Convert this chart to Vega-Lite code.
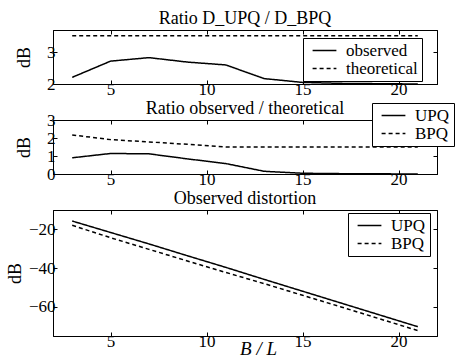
{
  "$schema": "https://vega.github.io/schema/vega-lite/v6.json",
  "background": "white",
  "padding": {"left": 5, "top": 9, "right": 1, "bottom": 1},
  "datasets": {
    "p1": [
      {"x": 3, "value": 2.21, "series": "observed"},
      {"x": 5, "value": 2.72, "series": "observed"},
      {"x": 7, "value": 2.83, "series": "observed"},
      {"x": 9, "value": 2.69, "series": "observed"},
      {"x": 11, "value": 2.6, "series": "observed"},
      {"x": 13, "value": 2.17, "series": "observed"},
      {"x": 15, "value": 2.05, "series": "observed"},
      {"x": 17, "value": 2.02, "series": "observed"},
      {"x": 19, "value": 2.01, "series": "observed"},
      {"x": 21, "value": 2.0, "series": "observed"},
      {"x": 3, "value": 3.52, "series": "theoretical"},
      {"x": 5, "value": 3.52, "series": "theoretical"},
      {"x": 7, "value": 3.52, "series": "theoretical"},
      {"x": 9, "value": 3.52, "series": "theoretical"},
      {"x": 11, "value": 3.52, "series": "theoretical"},
      {"x": 13, "value": 3.52, "series": "theoretical"},
      {"x": 15, "value": 3.52, "series": "theoretical"},
      {"x": 17, "value": 3.52, "series": "theoretical"},
      {"x": 19, "value": 3.52, "series": "theoretical"},
      {"x": 21, "value": 3.52, "series": "theoretical"}
    ],
    "p2": [
      {"x": 3, "value": 0.9, "series": "UPQ"},
      {"x": 5, "value": 1.14, "series": "UPQ"},
      {"x": 7, "value": 1.12, "series": "UPQ"},
      {"x": 9, "value": 0.84, "series": "UPQ"},
      {"x": 11, "value": 0.58, "series": "UPQ"},
      {"x": 13, "value": 0.15, "series": "UPQ"},
      {"x": 15, "value": 0.04, "series": "UPQ"},
      {"x": 17, "value": 0.02, "series": "UPQ"},
      {"x": 19, "value": 0.01, "series": "UPQ"},
      {"x": 21, "value": 0.0, "series": "UPQ"},
      {"x": 3, "value": 2.17, "series": "BPQ"},
      {"x": 5, "value": 1.91, "series": "BPQ"},
      {"x": 7, "value": 1.78, "series": "BPQ"},
      {"x": 9, "value": 1.65, "series": "BPQ"},
      {"x": 11, "value": 1.5, "series": "BPQ"},
      {"x": 13, "value": 1.5, "series": "BPQ"},
      {"x": 15, "value": 1.5, "series": "BPQ"},
      {"x": 17, "value": 1.5, "series": "BPQ"},
      {"x": 19, "value": 1.5, "series": "BPQ"},
      {"x": 21, "value": 1.5, "series": "BPQ"}
    ],
    "p3": [
      {"x": 3, "value": -15.7, "series": "UPQ"},
      {"x": 5, "value": -21.6, "series": "UPQ"},
      {"x": 7, "value": -27.5, "series": "UPQ"},
      {"x": 9, "value": -33.6, "series": "UPQ"},
      {"x": 11, "value": -39.6, "series": "UPQ"},
      {"x": 13, "value": -45.8, "series": "UPQ"},
      {"x": 15, "value": -51.9, "series": "UPQ"},
      {"x": 17, "value": -58.0, "series": "UPQ"},
      {"x": 19, "value": -64.1, "series": "UPQ"},
      {"x": 21, "value": -70.2, "series": "UPQ"},
      {"x": 3, "value": -17.9, "series": "BPQ"},
      {"x": 5, "value": -24.3, "series": "BPQ"},
      {"x": 7, "value": -30.3, "series": "BPQ"},
      {"x": 9, "value": -36.3, "series": "BPQ"},
      {"x": 11, "value": -42.2, "series": "BPQ"},
      {"x": 13, "value": -48.0, "series": "BPQ"},
      {"x": 15, "value": -54.0, "series": "BPQ"},
      {"x": 17, "value": -60.0, "series": "BPQ"},
      {"x": 19, "value": -66.1, "series": "BPQ"},
      {"x": 21, "value": -72.2, "series": "BPQ"}
    ]
  },
  "config": {
    "font": "Liberation Serif",
    "view": {"stroke": "black", "strokeWidth": 1},
    "axis": {
      "grid": false, "domainColor": "black", "domainWidth": 1, "tickColor": "black", "tickWidth": 1,
      "labelColor": "black", "titleColor": "black", "labelFont": "Liberation Serif", "labelFontSize": 17,
      "titleFont": "Liberation Serif", "titleFontSize": 18, "titleFontWeight": "normal",
      "tickSize": -4
    },
    "axisX": {"labelPadding": 1},
    "axisY": {"labelPadding": 2},
    "legend": {
      "orient": "none", "strokeColor": "black", "fillColor": "white", "cornerRadius": 0, "padding": 4,
      "labelFont": "Liberation Serif", "labelFontSize": 17, "labelColor": "black", "title": null,
      "symbolType": "M-1.7,0H1.7", "symbolSize": 196, "symbolStrokeWidth": 1.5, "symbolStrokeColor": "black",
      "symbolOffset": 9, "rowPadding": 0, "labelOffset": 13
    },
    "title": {"font": "Liberation Serif", "fontSize": 18, "fontWeight": "normal", "color": "black", "offset": 2}
  },
  "bounds": "flush",
  "spacing": 36,
  "vconcat": [
    {
      "width": 384, "height": 54,
      "title": "Ratio D_UPQ / D_BPQ",
      "data": {"name": "p1"},
      "layer": [
        {
          "mark": {"type": "line", "color": "black", "strokeWidth": 1.5, "clip": true},
          "encoding": {
            "x": {"field": "x", "type": "quantitative", "scale": {"domain": [2, 22], "nice": false}, "axis": {"values": [5, 10, 15, 20], "title": null}},
            "y": {"field": "value", "type": "quantitative", "scale": {"domain": [2, 3.7], "nice": false, "zero": false}, "axis": {"values": [2, 3], "title": "dB", "titlePadding": 13}},
            "strokeDash": {"field": "series", "type": "nominal", "scale": {"domain": ["observed", "theoretical"], "range": [[1, 0], [4, 3]]}, "legend": {"legendX": 250, "legendY": 8}}
          }
        },
        {
          "mark": {"type": "line", "opacity": 0},
          "encoding": {
            "x": {"field": "x", "type": "quantitative", "axis": {"orient": "top", "values": [5, 10, 15, 20], "labels": false, "title": null}},
            "y": {"field": "value", "type": "quantitative", "axis": {"orient": "right", "values": [2, 3], "labels": false, "title": null}}
          }
        }
      ],
      "resolve": {"axis": {"x": "independent", "y": "independent"}}
    },
    {
      "width": 384, "height": 54,
      "title": {"text": "Ratio observed / theoretical", "offset": -15},
      "data": {"name": "p2"},
      "layer": [
        {
          "mark": {"type": "line", "color": "black", "strokeWidth": 1.5, "clip": true},
          "encoding": {
            "x": {"field": "x", "type": "quantitative", "scale": {"domain": [2, 22], "nice": false}, "axis": {"values": [5, 10, 15, 20], "title": null}},
            "y": {"field": "value", "type": "quantitative", "scale": {"domain": [0, 3], "nice": false}, "axis": {"values": [0, 1, 2, 3], "title": "dB", "titlePadding": 13}},
            "strokeDash": {"field": "series", "type": "nominal", "scale": {"domain": ["UPQ", "BPQ"], "range": [[1, 0], [4, 3]]}, "legend": {"legendX": 319, "legendY": -17}}
          }
        },
        {
          "mark": {"type": "line", "opacity": 0},
          "encoding": {
            "x": {"field": "x", "type": "quantitative", "axis": {"orient": "top", "values": [5, 10, 15, 20], "labels": false, "title": null}},
            "y": {"field": "value", "type": "quantitative", "axis": {"orient": "right", "values": [0, 1, 2, 3], "labels": false, "title": null}}
          }
        }
      ],
      "resolve": {"axis": {"x": "independent", "y": "independent"}}
    },
    {
      "width": 384, "height": 126,
      "title": "Observed distortion",
      "data": {"name": "p3"},
      "layer": [
        {
          "mark": {"type": "line", "color": "black", "strokeWidth": 1.5, "clip": true},
          "encoding": {
            "x": {"field": "x", "type": "quantitative", "scale": {"domain": [2, 22], "nice": false}, "axis": {"values": [5, 10, 15, 20], "title": "B / L", "titleFontStyle": "italic", "titleFontSize": 19, "titlePadding": -10, "titleX": 205}},
            "y": {"field": "value", "type": "quantitative", "scale": {"domain": [-75, -10], "nice": false}, "axis": {"values": [-60, -40, -20], "title": "dB", "titlePadding": 4}},
            "strokeDash": {"field": "series", "type": "nominal", "scale": {"domain": ["UPQ", "BPQ"], "range": [[1, 0], [4, 3]]}, "legend": {"legendX": 295, "legendY": 3}}
          }
        },
        {
          "mark": {"type": "line", "opacity": 0},
          "encoding": {
            "x": {"field": "x", "type": "quantitative", "axis": {"orient": "top", "values": [5, 10, 15, 20], "labels": false, "title": null}},
            "y": {"field": "value", "type": "quantitative", "axis": {"orient": "right", "values": [-60, -40, -20], "labels": false, "title": null}}
          }
        }
      ],
      "resolve": {"axis": {"x": "independent", "y": "independent"}}
    }
  ],
  "resolve": {"scale": {"strokeDash": "independent"}}
}
